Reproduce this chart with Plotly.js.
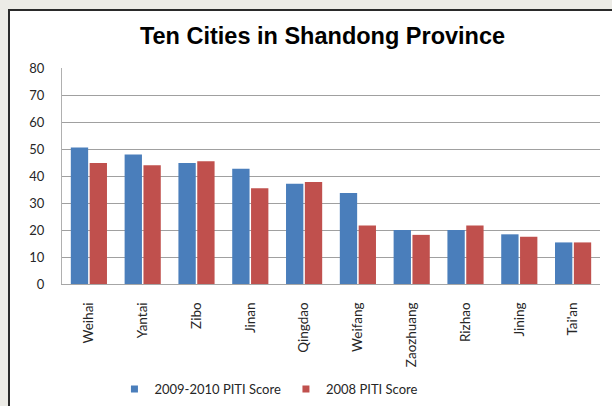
<!DOCTYPE html>
<html>
<head>
<meta charset="utf-8">
<script src="https://cdn.plot.ly/plotly-3.0.1.min.js"></script>
<style>
  html, body { margin: 0; padding: 0; }
  body { width: 612px; height: 406px; background: #ecebe6; position: relative; overflow: hidden; }
  #frame { position: absolute; left: 8px; top: 9px; width: 620px; height: 410px; background: #ffffff; border: 2px solid #2a2a2a; box-sizing: border-box; }
  #chart { position: absolute; left: 0; top: 0; width: 612px; height: 406px; }
</style>
</head>
<body>
<div id="frame"></div>
<div id="chart"></div>
<script>
const cities = ["Weihai", "Yantai", "Zibo", "Jinan", "Qingdao", "Weifang", "Zaozhuang", "Rizhao", "Jining", "Tai'an"];
const score2009_2010 = [50.6, 48, 44.8, 42.7, 37.1, 33.7, 20, 20, 18.4, 15.4];
const score2008 = [44.8, 44, 45.5, 35.5, 37.8, 21.7, 18.2, 21.7, 17.5, 15.4];
const seriesNames = ["2009-2010 PITI Score", "2008 PITI Score"];
const seriesColors = ["#4a7ebb", "#c0504d"];
const yTicks = [0, 10, 20, 30, 40, 50, 60, 70, 80];

const traces = [
  { type: "bar", name: seriesNames[0], x: cities, y: score2009_2010, showlegend: false,
    marker: { color: seriesColors[0], line: { width: 0 } } },
  { type: "bar", name: seriesNames[1], x: cities, y: score2008, showlegend: false,
    marker: { color: seriesColors[1], line: { width: 0 } } },
  { type: "scatter", mode: "markers", name: seriesNames[0], x: [null], y: [null],
    marker: { symbol: "square", size: 7, color: seriesColors[0] } },
  { type: "scatter", mode: "markers", name: seriesNames[1], x: [null], y: [null],
    marker: { symbol: "square", size: 7, color: seriesColors[1] } }
];

const tickFont = { family: "Lato, 'Open Sans', sans-serif", size: 13, color: "#262626" };
const xTickFont = { family: "Lato, 'Open Sans', sans-serif", size: 13.5, color: "#262626" };

const layout = {
  width: 612, height: 406,
  paper_bgcolor: "rgba(0,0,0,0)",
  plot_bgcolor: "rgba(0,0,0,0)",
  margin: { l: 62, r: 12, t: 68, b: 122, autoexpand: false },
  barmode: "group",
  bargap: 0.30,
  bargroupgap: 0.08,
  title: {
    text: "<b>Ten Cities in Shandong Province</b>",
    font: { family: "Liberation Sans, Arial, sans-serif", size: 23.5, color: "#000000" },
    x: 0.527, xanchor: "center", y: 0.911, yanchor: "middle"
  },
  xaxis: {
    type: "category",
    tickangle: -90,
    tickfont: xTickFont,
    ticks: "",
    ticklabelstandoff: 12,
    automargin: false,
    showline: true, linecolor: "#a6a6a6", linewidth: 1,
    showgrid: false
  },
  yaxis: {
    range: [0, 80],
    tickvals: yTicks,
    ticktext: yTicks.map(String),
    tickfont: tickFont,
    ticks: "",
    ticklabelstandoff: 14,
    automargin: false,
    showline: true, linecolor: "#b0b0b0", linewidth: 1,
    showgrid: true, gridcolor: "#a0a0a0", gridwidth: 1,
    zeroline: false
  },
  showlegend: true,
  legend: {
    orientation: "h",
    xref: "container", yref: "container",
    x: 0.187, xanchor: "left",
    y: 0.042, yanchor: "middle",
    font: { family: "Lato, 'Open Sans', sans-serif", size: 13, color: "#262626" },
    itemwidth: 30,
    traceorder: "normal",
    bgcolor: "rgba(0,0,0,0)"
  }
};

Plotly.newPlot("chart", traces, layout, { displayModeBar: false, staticPlot: true });
</script>
</body>
</html>
